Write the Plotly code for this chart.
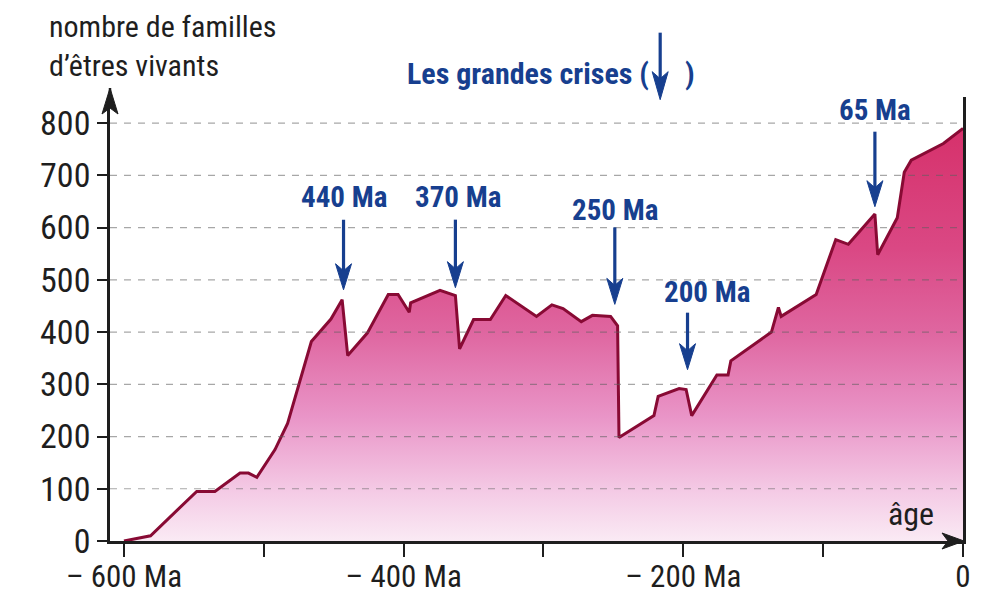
import plotly.graph_objects as go

# ---------------- data ----------------
ages = [-600, -581, -548, -535, -517, -511, -505, -492, -483, -476, -466, -452,
        -444, -440, -426, -411, -404, -396, -395, -374, -363, -360, -350, -338,
        -327, -305, -294, -286, -273, -265, -252, -247, -246, -221, -218, -203,
        -198, -194, -176, -168, -166, -137, -132, -130, -105, -91, -82, -63,
        -61, -47, -42, -37, -14, 0]
families = [0, 10, 95, 95, 130, 130, 122, 175, 225, 290, 382, 425,
            462, 355, 398, 472, 472, 438, 456, 480, 470, 368, 424, 424,
            470, 430, 452, 445, 420, 432, 430, 412, 198, 240, 277, 292,
            290, 240, 318, 318, 345, 400, 447, 430, 472, 577, 568, 626,
            548, 619, 706, 729, 761, 790]

crisis_labels = ["440 Ma", "370 Ma", "250 Ma", "200 Ma", "65 Ma"]

y_ticks = [0, 100, 200, 300, 400, 500, 600, 700, 800]
x_ticks = [-600, -500, -400, -300, -200, -100, 0]
x_ticktext = ["\u2013 600 Ma", "", "\u2013 400 Ma", "", "\u2013 200 Ma", "", "0"]

y_title = "nombre de familles<br>d\u2019êtres vivants"
x_title = "âge"
crises_title = "Les grandes crises ("

# ---------------- layout / style ----------------
FONT = "Liberation Sans Narrow, Arial Narrow, Roboto Condensed, Liberation Sans, Arial, sans-serif"
BLACK = "#1e1e1e"
BLUE = "#173f8f"

# arrow placement for each crisis (x in Ma, tip in axis units, length px)
arrow_x = [-443, -363, -249, -197, -63]
arrow_tip = [481, 485, 453, 328, 640]
arrow_len = [70, 68, 77, 57, 75]
label_x = [-443, -361, -249, -183, -63]
label_y = [659, 659, 634, 476, 826]

fig = go.Figure()
fig.add_trace(go.Scatter(
    x=ages, y=families, mode="lines",
    line=dict(color="#880a34", width=3),
    fill="tozeroy",
    fillgradient=dict(
        type="vertical", start=0, stop=800,
        colorscale=[[0.0, "rgb(250,234,244)"], [0.12, "rgb(244,202,229)"],
                    [0.3, "rgb(233,148,199)"], [0.5, "rgb(223,102,160)"],
                    [0.7, "rgb(218,72,132)"], [1.0, "rgb(214,48,106)"]]),
    hoverinfo="x+y", showlegend=False))

shapes = []
# dashed gridlines drawn above the fill
for v in y_ticks[1:]:
    shapes.append(dict(type="line", xref="paper", yref="y", x0=0, x1=1, y0=v, y1=v,
                       line=dict(color="rgba(95,95,95,0.55)", width=1.2, dash="7px,7px"),
                       layer="above"))


def head_path(xref, yref, xa, ya, path, color):
    return dict(type="path", xref=xref, yref=yref, xsizemode="pixel", ysizemode="pixel",
                xanchor=xa, yanchor=ya, path=path, fillcolor=color,
                line=dict(color=color, width=1), layer="above")


def shaft(xref, yref, xa, ya, y0, y1, color, width):
    return dict(type="line", xref=xref, yref=yref, xsizemode="pixel", ysizemode="pixel",
                xanchor=xa, yanchor=ya, x0=0, x1=0, y0=y0, y1=y1,
                line=dict(color=color, width=width), layer="above")


DOWN_HEAD = "M0,0 L-8,26 L0,19 L8,26 Z"

# crisis arrows
for xa, tip, ln in zip(arrow_x, arrow_tip, arrow_len):
    shapes.append(shaft("x", "y", xa, tip, 12, ln, BLUE, 3.2))
    shapes.append(head_path("x", "y", xa, tip, DOWN_HEAD, BLUE))

# arrow in the "Les grandes crises ( ↓ )" legend
shapes.append(shaft("paper", "paper", 0.645, 0.994, 12, 67, BLUE, 3.2))
shapes.append(head_path("paper", "paper", 0.645, 0.994, "M0,0 L-8,28 L0,21 L8,28 Z", BLUE))

# axis arrowheads
shapes.append(shaft("paper", "paper", 0, 1.0, -2, 9, BLACK, 2.5))
shapes.append(head_path("paper", "paper", 0, 1.0, "M0,9 L-8,-17 L0,-11 L8,-17 Z", BLACK))
shapes.append(head_path("paper", "paper", 1.0, 0, "M1,0 L-21,8 L-15,0 L-21,-8 Z", BLACK))

annotations = []
for txt, lx, ly in zip(crisis_labels, label_x, label_y):
    annotations.append(dict(x=lx, y=ly, xref="x", yref="y", text=f"<b>{txt}</b>",
                            showarrow=False, font=dict(family=FONT, size=29, color=BLUE),
                            xanchor="center", yanchor="middle"))
annotations += [
    dict(x=-0.0739, y=1.115, xref="paper", yref="paper", text=y_title, showarrow=False,
         align="left", xanchor="left", yanchor="middle",
         font=dict(family=FONT, size=30, color=BLACK)),
    dict(x=0.939, y=0.06, xref="paper", yref="paper", text=x_title, showarrow=False,
         xanchor="center", yanchor="middle", font=dict(family=FONT, size=32, color=BLACK)),
    dict(x=0.634, y=1.054, xref="paper", yref="paper", text=f"<b>{crises_title}</b>",
         showarrow=False, xanchor="right", yanchor="middle",
         font=dict(family=FONT, size=30, color=BLUE)),
    dict(x=0.680, y=1.054, xref="paper", yref="paper", text="<b>)</b>",
         showarrow=False, xanchor="center", yanchor="middle",
         font=dict(family=FONT, size=30, color=BLUE)),
]

fig.update_layout(
    width=976, height=590,
    margin=dict(l=102, r=21, t=89, b=57, pad=0),
    paper_bgcolor="white", plot_bgcolor="white",
    font=dict(family=FONT, size=31, color=BLACK),
    shapes=shapes, annotations=annotations,
    xaxis=dict(range=[-610, 0], tickmode="array", tickvals=x_ticks, ticktext=x_ticktext,
               showgrid=False, zeroline=False, showline=True, linecolor=BLACK, linewidth=2.5,
               ticks="outside", ticklen=13, tickwidth=2, tickcolor=BLACK, automargin=False,
               ticklabelstandoff=-7,
               tickfont=dict(family=FONT, size=31, color=BLACK), layer="above traces",
               fixedrange=True),
    yaxis=dict(range=[0, 850], tickmode="array", tickvals=y_ticks,
               showgrid=False, zeroline=False, showline=True, linecolor=BLACK, linewidth=2.5,
               mirror=True, ticks="outside", ticklen=10, tickwidth=2, tickcolor=BLACK,
               automargin=False,
               tickfont=dict(family=FONT, size=34, color=BLACK), layer="above traces",
               fixedrange=True),
)

fig.write_html("out.html")
